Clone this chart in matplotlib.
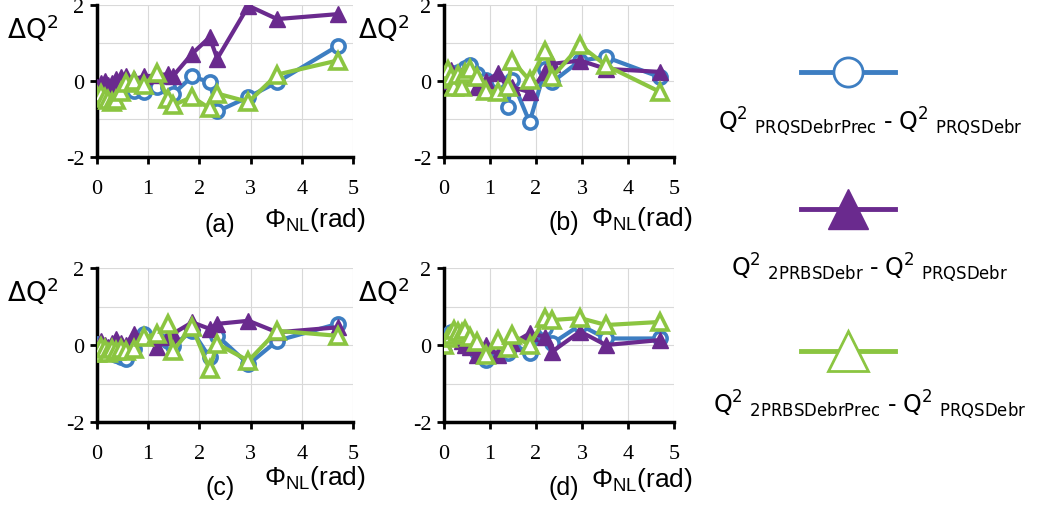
import matplotlib
matplotlib.use('Agg')
import matplotlib.pyplot as plt
from matplotlib.lines import Line2D

plt.rcParams['mathtext.fontset'] = 'custom'
plt.rcParams['mathtext.rm'] = 'Liberation Sans'
plt.rcParams['mathtext.it'] = 'Liberation Sans'
plt.rcParams['axes.unicode_minus'] = False

# nonlinear phase (rad), shared by all panels
PHI = [0, 0.08, 0.15, 0.22, 0.3, 0.38, 0.46, 0.56, 0.72, 0.92,
       1.17, 1.38, 1.48, 1.86, 2.2, 2.35, 2.96, 3.52, 4.7]

# panel (a)
blue_a = [-0.2, -0.25, -0.3, -0.3, -0.35, -0.3, -0.25, -0.2, -0.25, -0.28,
          -0.15, -0.15, -0.35, 0.12, -0.03, -0.8, -0.42, -0.03, 0.92]
purple_a = [-0.15, -0.05, 0.0, -0.1, -0.05, 0.05, 0.1, 0.12, 0.05, 0.12,
            0.15, 0.18, 0.12, 0.72, 1.15, 0.59, 1.98, 1.63, 1.76]
green_a = [-0.4, -0.35, -0.45, -0.5, -0.55, -0.5, -0.3, -0.05, 0.0, -0.1,
           0.22, -0.46, -0.64, -0.42, -0.72, -0.33, -0.55, 0.17, 0.54]

# panel (b)
blue_b = [0.06, 0.15, 0.2, 0.1, 0.25, 0.2, 0.35, 0.41, 0.19, 0.02,
          0.0, -0.68, 0.02, -1.08, 0.32, -0.03, 0.54, 0.63, 0.1]
purple_b = [0.0, 0.2, 0.3, 0.1, 0.05, 0.15, 0.1, 0.1, -0.16, 0.0,
            0.2, -0.16, -0.16, -0.29, 0.24, 0.45, 0.54, 0.32, 0.24]
green_b = [0.06, 0.28, 0.1, -0.16, 0.15, -0.16, 0.2, 0.32, 0.1, -0.25,
           -0.29, -0.16, 0.54, 0.02, 0.8, 0.1, 0.94, 0.41, -0.29]

# panel (c)
blue_c = [0.03, -0.1, -0.15, -0.2, -0.2, -0.25, -0.3, -0.35, -0.1, 0.29,
          0.16, 0.1, -0.02, 0.37, -0.32, 0.24, -0.5, 0.11, 0.55]
purple_c = [-0.2, 0.1, 0.0, -0.05, 0.05, 0.16, 0.05, 0.0, 0.29, 0.2,
            -0.06, 0.2, 0.29, 0.59, 0.42, 0.55, 0.63, 0.33, 0.46]
green_c = [-0.2, -0.05, -0.1, -0.2, -0.1, -0.15, -0.1, -0.15, -0.1, 0.2,
           0.29, 0.55, -0.15, 0.46, -0.63, 0.03, -0.41, 0.37, 0.24]

# panel (d)
blue_d = [0.15, 0.25, 0.35, 0.3, 0.2, 0.1, 0.0, -0.05, -0.17, -0.39,
          -0.17, -0.22, 0.04, -0.22, 0.43, 0.04, 0.52, 0.17, 0.17]
purple_d = [0.04, 0.2, 0.3, 0.39, 0.3, 0.1, 0.0, -0.05, -0.26, 0.0,
            -0.26, -0.09, 0.04, 0.3, 0.22, -0.17, 0.35, 0.0, 0.13]
green_d = [0.0, 0.17, 0.25, 0.39, 0.35, 0.3, 0.39, 0.22, 0.09, -0.26,
           0.13, -0.09, 0.26, 0.0, 0.7, 0.65, 0.7, 0.52, 0.6]

BLUE = '#3d7ec2'
PURPLE = '#6a2a8e'
GREEN = '#8bc541'

# tag, data, axes rect, (tag x, tag y), (phi x, phi y) in axes fractions
panels = [
    ('(a)', blue_a, purple_a, green_a, [0.0926, 0.6877, 0.2445, 0.3004],
     (0.48, -0.44), (1.05, -0.41)),
    ('(b)', blue_b, purple_b, green_b, [0.4241, 0.6877, 0.2197, 0.3004],
     (0.52, -0.43), (1.08, -0.40)),
    ('(c)', blue_c, purple_c, green_c, [0.0926, 0.1640, 0.2445, 0.3043],
     (0.48, -0.42), (1.05, -0.36)),
    ('(d)', blue_d, purple_d, green_d, [0.4241, 0.1640, 0.2197, 0.3043],
     (0.52, -0.42), (1.08, -0.37)),
]

fig = plt.figure(figsize=(10.47, 5.06), dpi=100, facecolor='white')

for tag, yb, yp, yg, rect, tpos, ppos in panels:
    ax = fig.add_axes(rect)
    ax.plot(PHI, yb, color=BLUE, lw=3, marker='o', ms=9.5,
            mfc='white', mec=BLUE, mew=2.6, zorder=3)
    ax.plot(PHI, yp, color=PURPLE, lw=3, marker='^', ms=12,
            mfc=PURPLE, mec=PURPLE, zorder=4)
    ax.plot(PHI, yg, color=GREEN, lw=3, marker='^', ms=11,
            mfc='white', mec=GREEN, mew=2.6, zorder=5)
    ax.set_xlim(0, 5)
    ax.set_ylim(-2, 2)
    ax.set_xticks(range(6))
    ax.set_yticks([-2, 0, 2])
    ax.set_yticks([-1, 1], minor=True)
    ax.grid(True, which='both', color='#d9d9d9', lw=0.8)
    ax.tick_params(which='minor', length=0)
    ax.tick_params(which='major', length=5, width=2, direction='out',
                   labelsize=16, color='black')
    ax.tick_params(axis='x', pad=11)
    ax.tick_params(axis='y', pad=4)
    for lab in ax.get_xticklabels() + ax.get_yticklabels():
        lab.set_family('Liberation Serif')
    for s in ['top', 'right']:
        ax.spines[s].set_visible(False)
    for s in ['left', 'bottom']:
        ax.spines[s].set_linewidth(2.5)
        ax.spines[s].set_color('black')
    ax.set_axisbelow(True)
    ax.text(-0.15, 0.95, r'$\mathregular{\Delta Q^2}$', transform=ax.transAxes,
            ha='right', va='top', fontsize=19)
    ax.text(tpos[0], tpos[1], tag, transform=ax.transAxes, ha='center',
            va='center', fontsize=18, family='Liberation Sans')
    ax.text(ppos[0], ppos[1], r'$\Phi_{\mathregular{NL}}$(rad)',
            transform=ax.transAxes, ha='right', va='center',
            fontsize=19, family='Liberation Sans')

# legend, drawn on its own
lax = fig.add_axes([0, 0, 1, 1], facecolor='none')
lax.set_xlim(0, 1047)
lax.set_ylim(506, 0)
lax.axis('off')
HY = '\u2010'
entries = [
    (BLUE, 'o', 'white', 73, 122,
     r'$\mathregular{Q^2\ _{PRQSDebrPrec}\ ' + HY + r'\ Q^2\ _{PRQSDebr}}$'),
    (PURPLE, '^', PURPLE, 210, 268,
     r'$\mathregular{Q^2\ _{2PRBSDebr}\ ' + HY + r'\ Q^2\ _{PRQSDebr}}$'),
    (GREEN, '^', 'white', 352, 405,
     r'$\mathregular{Q^2\ _{2PRBSDebrPrec}\ ' + HY + r'\ Q^2\ _{PRQSDebr}}$'),
]
for col, mk, fc, ly, ty, label in entries:
    lax.add_line(Line2D([801, 895], [ly, ly], color=col, lw=3.5))
    lax.add_line(Line2D([848], [ly], marker=mk,
                        ms=21 if mk == 'o' else 29, mfc=fc, mec=col,
                        mew=2 if fc == 'white' else 1, color=col))
    lax.text(870, ty, label, ha='center', va='center', fontsize=17)

fig.savefig('out.png', dpi=100, facecolor='white')
